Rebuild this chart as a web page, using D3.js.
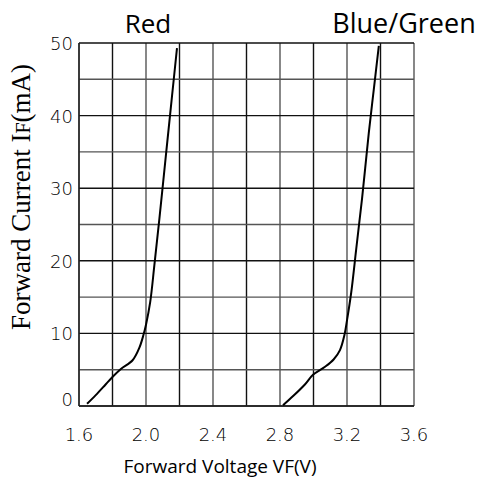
<!DOCTYPE html>
<html>
<head>
<meta charset="utf-8">
<script src="https://cdn.jsdelivr.net/npm/d3@7"></script>
<style>
  body { margin: 0; background: #fff; }
  .tick-label { font-family: "DejaVu Sans"; font-weight: 200; font-size: 18px; fill: #000; }
</style>
</head>
<body>
<svg id="chart" width="481" height="481"></svg>
<script>
// axis ticks
let x_ticks = [1.6, 2.0, 2.4, 2.8, 3.2, 3.6];
let y_ticks = [0, 10, 20, 30, 40, 50];

// curves: [VF, IF]
let red_vf = [1.648, 1.70, 1.76, 1.80, 1.85, 1.92, 1.96, 1.985, 2.00, 2.025, 2.05, 2.08, 2.12, 2.155, 2.185];
let red_if = [0.3, 1.5, 3.0, 4.0, 5.1, 6.3, 8.0, 9.8, 11.2, 14.3, 19.4, 25.8, 34.8, 42.6, 49.3];

let bg_vf = [2.818, 2.88, 2.95, 2.997, 3.069, 3.12, 3.158, 3.185, 3.20, 3.225, 3.255, 3.29, 3.33, 3.36, 3.39];
let bg_if = [0.1, 1.4, 3.0, 4.3, 5.4, 6.4, 7.7, 9.8, 11.8, 15.6, 21.6, 28.6, 37.6, 43.6, 49.6];

let svg = d3.select("#chart");
let margin = {left: 79, top: 43, right: 67, bottom: 75};
let width = 481 - margin.left - margin.right;
let height = 481 - margin.top - margin.bottom;

let x = d3.scaleLinear().domain([1.6, 3.6]).range([margin.left, margin.left + width]);
let y = d3.scaleLinear().domain([0, 50]).range([margin.top + height, margin.top]);

// grid
let g = svg.append("g");
d3.range(0, 11).forEach((i) => {
	let v = 1.6 + i * 0.2;
	g.append("line")
		.attr("x1", x(v)).attr("x2", x(v))
		.attr("y1", y(0)).attr("y2", y(50))
		.style("stroke", i % 2 == 0 ? "#555" : "#111")
		.style("stroke-width", "1.4px");
});
d3.range(0, 11).forEach((i) => {
	let v = i * 5;
	g.append("line")
		.attr("x1", x(1.6)).attr("x2", x(3.6))
		.attr("y1", y(v)).attr("y2", y(v))
		.style("stroke", i % 2 == 0 ? "#111" : "#555")
		.style("stroke-width", "1.4px");
});
// left and bottom frame
g.append("line").attr("x1", x(1.6)).attr("x2", x(1.6)).attr("y1", y(0)).attr("y2", y(50))
	.style("stroke", "#222").style("stroke-width", "1.5px");
g.append("line").attr("x1", x(1.6)).attr("x2", x(3.6)).attr("y1", y(0)).attr("y2", y(0))
	.style("stroke", "#222").style("stroke-width", "1.5px");

// tick labels
svg.selectAll(".xt").data(x_ticks).enter().append("text")
	.attr("class", "tick-label")
	.attr("x", (d) => x(d))
	.attr("y", y(0) + 35)
	.attr("text-anchor", "middle")
	.text((d) => d.toFixed(1));

svg.selectAll(".yt").data(y_ticks).enter().append("text")
	.attr("class", "tick-label")
	.attr("x", margin.left - 6)
	.attr("y", (d) => y(d) + (d == 0 ? 0 : 7))
	.attr("text-anchor", "end")
	.text((d) => d);

// curves
let line = d3.line()
	.x((d) => x(d[0]))
	.y((d) => y(d[1]))
	.curve(d3.curveCatmullRom.alpha(0.5));

[[red_vf, red_if], [bg_vf, bg_if]].forEach((s) => {
	let pts = s[0].map((v, i) => [v, s[1][i]]);
	svg.append("path")
		.attr("d", line(pts))
		.style("fill", "none")
		.style("stroke", "#000")
		.style("stroke-width", "2px");
});

// titles
svg.append("text")
	.attr("x", 148).attr("y", 33)
	.attr("text-anchor", "middle")
	.style("font-family", "Open Sans")
	.style("font-size", "26px")
	.text("Red");

svg.append("text")
	.attr("x", 404).attr("y", 33)
	.attr("text-anchor", "middle")
	.style("font-family", "Open Sans")
	.style("font-size", "27px")
	.text("Blue/Green");

svg.append("text")
	.attr("x", 220).attr("y", 473)
	.attr("text-anchor", "middle")
	.style("font-family", "Open Sans")
	.style("font-size", "19px")
	.text("Forward Voltage VF(V)");

let yt = svg.append("text")
	.attr("transform", "translate(30,197) rotate(-90)")
	.attr("text-anchor", "middle")
	.style("font-family", "Liberation Serif")
	.style("font-size", "27px");
yt.append("tspan").text("Forward Current I");
yt.append("tspan").style("font-size", "20px").text("F");
yt.append("tspan").text("(mA)");
</script>
</body>
</html>
